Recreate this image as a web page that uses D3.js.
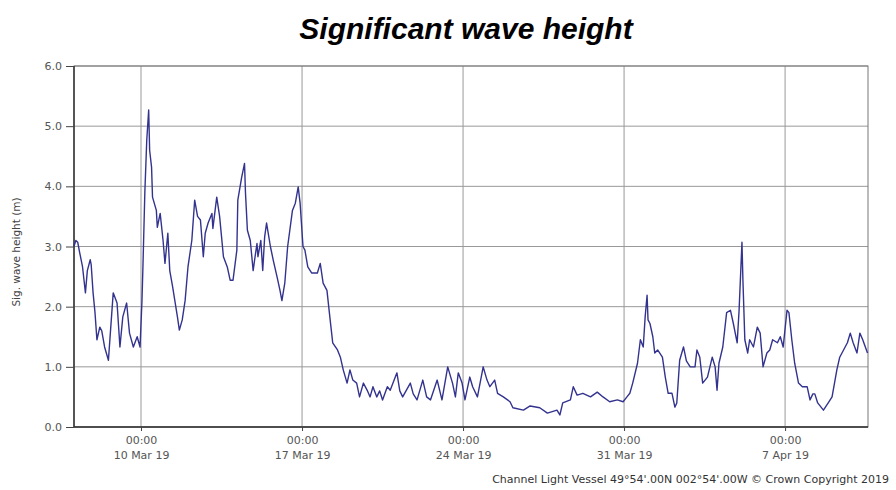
<!DOCTYPE html>
<html>
<head>
<meta charset="utf-8">
<title>Significant wave height</title>
<script src="https://d3js.org/d3.v7.min.js"></script>
<style>
  body { margin: 0; background: #fff; font-family: "Liberation Sans", Arial, sans-serif; }
  .axis text { fill: #555; font-size: 11px; font-family: "DejaVu Sans", sans-serif; }
  .axis line { stroke: #444; }
  .axis path { display: none; }
  .grid line { stroke: #999; stroke-width: 1; }
</style>
</head>
<body>
<div id="chart"></div>
<script>
// hours after 7 Mar 2019 00:00
const hours = [2,4,6,8,11,14,16,19,20,22,24,26,29,31,34,38,40,43,47,50,53,57,60,64,68,71,73,74,76,78,
  80,81,83,84,88,89,92,95,97,100,102,105,110,112,115,118,121,125,128,131,134,137,139,142,146,147,151,154,158,162,
  165,168,
  172,173,177,180,181,183,186,189,191,193,194,197,199,201,203,207,210,214,217,219,
  222,225,230,233,236,238,241,243,246,250,256,259,262,266,269,272,277,280,283,287,
  290,293,297,300,304,308,311,314,318,321,324,329,332,
  339,342,345,353,356,360,366,370,374,381,386,392,397,400,403,407,410,415,418,423,
  429,433,436,441,444,450,457,460,471,478,488,496,506,509,512,520,523,527,533,541,
  548,554,561,569,575,579,582,
  585,590,593,596,598,600,601,603,606,608,611,616,619,622,626,629,631,634,638,641,
  645,650,652,655,658,663,668,671,673,675,679,683,687,690,694,696,699,700,702,705,
  707,711,715,718,721,725,728,731,736,739,742,746,748,751,754,758,762,767,770,773,
  775,778,784,789,793,798,801,805,809,812,815,819,822,825,830];

// significant wave height (m)
const waveHeight = [3.0,3.1,3.07,2.9,2.66,2.23,2.6,2.78,2.7,2.23,1.9,1.45,1.66,1.6,1.33,1.11,1.56,2.23,2.06,1.33,
  1.83,2.06,1.56,1.33,1.5,1.33,2.1,2.66,3.9,4.77,5.27,4.6,4.32,3.82,3.6,3.32,3.55,3.1,2.72,3.22,
  2.6,2.33,1.83,1.61,1.78,2.1,2.66,3.1,3.77,3.5,3.44,2.83,3.22,3.39,3.55,3.3,3.82,3.5,2.83,2.66,
  2.44,2.44,
  2.94,3.77,4.15,4.38,3.89,3.27,3.1,2.6,2.83,3.05,2.83,3.1,2.6,3.16,3.39,3.0,2.77,2.49,2.27,2.1,
  2.39,3.0,3.6,3.72,3.99,3.72,3.0,2.94,2.66,2.56,2.56,2.72,2.39,2.27,1.83,1.4,1.28,1.16,0.95,0.73,
  0.95,0.78,0.73,0.5,0.73,0.61,0.5,0.67,0.5,0.6,0.45,0.67,0.61,
  0.9,0.6,0.5,0.73,0.55,0.45,0.78,0.5,0.45,0.78,0.45,1.0,0.73,0.5,0.9,0.73,0.45,0.83,0.67,0.5,
  1.0,0.78,0.67,0.78,0.56,0.5,0.42,0.32,0.28,0.35,0.32,0.23,0.28,0.2,0.4,0.45,0.67,0.53,0.56,0.5,
  0.58,0.5,0.42,0.45,0.42,0.5,0.56,
  0.73,1.06,1.45,1.33,1.83,2.19,1.78,1.72,1.5,1.23,1.28,1.16,0.83,0.56,0.56,0.33,0.4,1.11,1.33,1.1,
  1.0,1.0,1.28,1.16,0.73,0.83,1.16,1.0,0.61,1.06,1.33,1.9,1.94,1.72,1.4,1.94,3.07,2.44,1.45,1.23,
  1.45,1.33,1.66,1.56,1.0,1.23,1.28,1.45,1.4,1.5,1.33,1.94,1.9,1.45,1.06,0.73,0.67,0.67,0.45,0.55,
  0.55,0.4,0.28,0.4,0.5,0.95,1.16,1.28,1.4,1.56,1.4,1.23,1.56,1.45,1.23];

const yTicks = [0, 1, 2, 3, 4, 5, 6];
const xTickDates = ["2019-03-10", "2019-03-17", "2019-03-24", "2019-03-31", "2019-04-07"];
const xTickLabels = ["10 Mar 19", "17 Mar 19", "24 Mar 19", "31 Mar 19", "7 Apr 19"];

const width = 896, height = 490;
const margin = { top: 66, right: 28, bottom: 63, left: 74 };

const t0 = new Date(2019, 2, 7);
const data = hours.map((h, i) => ({ date: d3.timeHour.offset(t0, h), value: waveHeight[i] }));
const tickDates = xTickDates.map(s => d3.timeParse("%Y-%m-%d")(s));

const svg = d3.select("#chart").append("svg")
    .attr("width", width)
    .attr("height", height);

const x = d3.scaleTime()
    .domain([d3.timeMinute.offset(t0, 125), d3.timeMinute.offset(t0, 34 * 1440 + 870)])
    .range([margin.left, width - margin.right]);

const y = d3.scaleLinear()
    .domain([0, 6])
    .range([height - margin.bottom, margin.top]);

// title
svg.append("text")
    .attr("x", 466)
    .attr("y", 39)
    .attr("text-anchor", "middle")
    .style("font-size", "30px")
    .style("font-weight", "bold")
    .style("font-style", "italic")
    .text("Significant wave height");

// grid
svg.append("g").attr("class", "grid")
    .selectAll("line.h").data(yTicks).enter().append("line")
    .attr("x1", margin.left).attr("x2", width - margin.right)
    .attr("y1", d => y(d)).attr("y2", d => y(d));

svg.append("g").attr("class", "grid")
    .selectAll("line.v").data(tickDates).enter().append("line")
    .attr("x1", d => x(d)).attr("x2", d => x(d))
    .attr("y1", margin.top).attr("y2", height - margin.bottom);

// frame
svg.append("rect")
    .attr("x", margin.left).attr("y", margin.top)
    .attr("width", width - margin.left - margin.right)
    .attr("height", height - margin.top - margin.bottom)
    .attr("fill", "none")
    .attr("stroke", "#777");

svg.append("line")
    .attr("x1", margin.left).attr("x2", margin.left)
    .attr("y1", margin.top).attr("y2", height - margin.bottom)
    .attr("stroke", "#333").attr("stroke-width", 1.5);

svg.append("line")
    .attr("x1", margin.left).attr("x2", width - margin.right)
    .attr("y1", height - margin.bottom).attr("y2", height - margin.bottom)
    .attr("stroke", "#333").attr("stroke-width", 1.5);

// y axis
svg.append("g")
    .attr("class", "axis")
    .attr("transform", `translate(${margin.left},0)`)
    .call(d3.axisLeft(y).tickValues(yTicks).tickFormat(d3.format(".1f")).tickSize(8).tickPadding(4));

// x axis
const xAxis = svg.append("g")
    .attr("class", "axis")
    .attr("transform", `translate(0,${height - margin.bottom})`)
    .call(d3.axisBottom(x).tickValues(tickDates).tickSize(4).tickFormat(() => ""));

xAxis.selectAll(".tick text").each(function(d, i) {
    const t = d3.select(this);
    t.append("tspan").attr("x", 0).attr("dy", "0.9em").text("00:00");
    t.append("tspan").attr("x", 0).attr("dy", "1.35em").text(xTickLabels[i]);
});

// y axis title
svg.append("text")
    .attr("transform", "rotate(-90)")
    .attr("x", -252)
    .attr("y", 20)
    .attr("text-anchor", "middle")
    .style("font-size", "10.5px")
    .style("font-family", "'DejaVu Sans', sans-serif")
    .style("fill", "#444")
    .text("Sig. wave height (m)");

// credit
svg.append("text")
    .attr("x", 889)
    .attr("y", 483)
    .attr("text-anchor", "end")
    .style("font-size", "11px")
    .style("font-family", "'DejaVu Sans', sans-serif")
    .style("fill", "#333")
    .text("Channel Light Vessel 49°54'.00N 002°54'.00W © Crown Copyright 2019");

// data line
const line = d3.line()
    .x(d => x(d.date))
    .y(d => y(d.value));

svg.append("path")
    .datum(data)
    .attr("fill", "none")
    .attr("stroke", "#33338f")
    .attr("stroke-width", 1.4)
    .attr("stroke-linejoin", "round")
    .attr("d", line);
</script>
</body>
</html>
